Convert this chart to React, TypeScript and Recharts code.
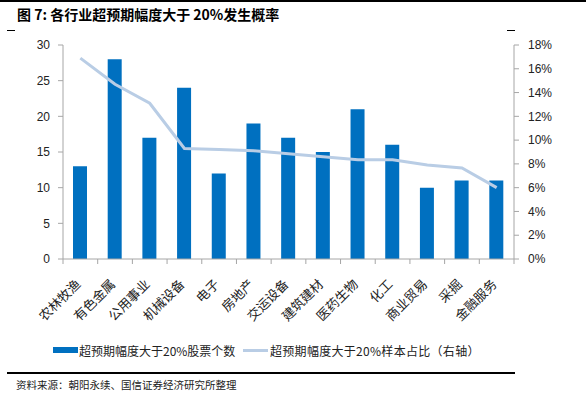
import React from 'react';
import { ComposedChart, Bar, Line, XAxis, YAxis } from 'recharts';

const categories = ['农林牧渔', '有色金属', '公用事业', '机械设备', '电子', '房地产', '交运设备', '建筑建材', '医药生物', '化工', '商业贸易', '采掘', '金融服务'];
const stockCounts = [13, 28, 17, 24, 12, 19, 17, 15, 21, 16, 10, 11, 11];
const sampleRatio = [16.9, 14.7, 13.1, 9.3, 9.2, 9.1, 8.85, 8.6, 8.35, 8.35, 7.9, 7.65, 6.0];
const leftTicks = [0, 5, 10, 15, 20, 25, 30];
const rightTicks = [0, 2, 4, 6, 8, 10, 12, 14, 16, 18];

const data = categories.map((name, i) => ({ name, count: stockCounts[i], ratio: sampleRatio[i] }));

const BAND = 451 / 13;
const AXIS_COLOR = '#A6A6A6';
const CJK = '"Noto Sans CJK SC", "Noto Sans", sans-serif';

const XTick = (props: any) => {
  const { x, y, payload, index } = props;
  const lx = x + 1;
  const ly = y + 26;
  return (
    <g>
      <line x1={x - BAND / 2} y1={y} x2={x - BAND / 2} y2={y + 5} stroke={AXIS_COLOR} />
      {index === categories.length - 1 && (
        <line x1={x + BAND / 2} y1={y} x2={x + BAND / 2} y2={y + 5} stroke={AXIS_COLOR} />
      )}
      <text
        x={lx}
        y={ly}
        transform={`rotate(-45 ${lx} ${ly})`}
        textAnchor="end"
        fontSize={13}
        fontFamily={CJK}
        fill="#222"
      >
        {payload.value}
      </text>
    </g>
  );
};

export default function App() {
  return (
    <div style={{ position: 'absolute', left: 0, top: 0, width: 586, height: 398, background: '#fff', overflow: 'hidden' }}>
      <div style={{ position: 'absolute', left: 0, top: 0, width: 586, height: 2, background: '#000' }} />
      <div style={{ position: 'absolute', left: 17, top: 4, fontFamily: CJK, fontWeight: 700, fontSize: 14, color: '#000', whiteSpace: 'nowrap', lineHeight: '20px' }}>
        图 7: 各行业超预期幅度大于 20%发生概率
      </div>
      <div style={{ position: 'absolute', left: 7, top: 30, width: 8, height: 1, background: '#000' }} />
      <div style={{ position: 'absolute', left: 507, top: 30, width: 8, height: 1, background: '#000' }} />
      <div style={{ position: 'absolute', left: 0, top: 0 }}>
        <ComposedChart width={586} height={398} data={data} margin={{ top: 45, right: 22, left: 33, bottom: 79 }}>
          <XAxis
            dataKey="name"
            interval={0}
            height={60}
            tick={<XTick />}
            tickLine={false}
            tickSize={0}
            tickMargin={0}
            axisLine={{ stroke: AXIS_COLOR }}
          />
          <YAxis
            yAxisId="left"
            domain={[0, 30]}
            ticks={leftTicks}
            width={30}
            tickSize={5}
            tickMargin={8}
            axisLine={{ stroke: AXIS_COLOR }}
            tickLine={{ stroke: AXIS_COLOR }}
            tick={{ fontSize: 12, fill: '#222', fontFamily: '"Liberation Sans", sans-serif' }}
          />
          <YAxis
            yAxisId="right"
            orientation="right"
            domain={[0, 18]}
            ticks={rightTicks}
            width={50}
            tickSize={5}
            tickMargin={9}
            tickFormatter={(v: number) => `${v}%`}
            axisLine={{ stroke: AXIS_COLOR }}
            tickLine={{ stroke: AXIS_COLOR }}
            tick={{ fontSize: 12, fill: '#222', fontFamily: '"Liberation Sans", sans-serif' }}
          />
          <Bar yAxisId="left" dataKey="count" fill="#0070C0" barSize={14} isAnimationActive={false} />
          <Line yAxisId="right" dataKey="ratio" stroke="#B9CDE5" strokeWidth={3} dot={false} activeDot={false} type="linear" isAnimationActive={false} />
        </ComposedChart>
      </div>
      <div style={{ position: 'absolute', left: 53, top: 347, width: 25, height: 6, background: '#0070C0' }} />
      <div style={{ position: 'absolute', left: 79, top: 342, fontFamily: CJK, fontSize: 12, color: '#222', whiteSpace: 'nowrap', lineHeight: '18px' }}>
        超预期幅度大于20%股票个数
      </div>
      <div style={{ position: 'absolute', left: 243, top: 349, width: 25, height: 3, background: '#B9CDE5' }} />
      <div style={{ position: 'absolute', left: 270, top: 342, fontFamily: CJK, fontSize: 12, color: '#222', whiteSpace: 'nowrap', lineHeight: '18px', letterSpacing: 0.3 }}>
        超预期幅度大于20%样本占比（右轴）
      </div>
      <div style={{ position: 'absolute', left: 7, top: 372, width: 508, height: 2, background: '#000' }} />
      <div style={{ position: 'absolute', left: 16, top: 377, fontFamily: CJK, fontSize: 10.5, color: '#222', whiteSpace: 'nowrap', lineHeight: '16px' }}>
        资料来源：朝阳永续、国信证券经济研究所整理
      </div>
    </div>
  );
}
